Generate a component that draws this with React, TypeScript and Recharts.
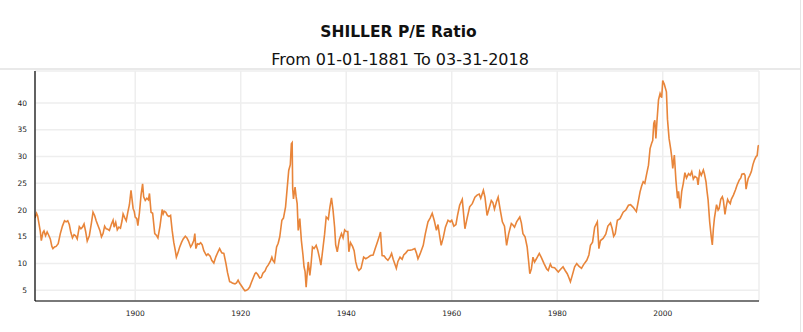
import { LineChart, Line, XAxis, YAxis, CartesianGrid } from "recharts";

// Shiller P/E, [decimal year, ratio]
const PE_1881_1920: [number, number][] = [
  [1881.0, 18.5], [1881.3, 19.4], [1881.5, 18.9], [1881.8, 17.2], [1882.0, 16.0], [1882.2, 14.3],
  [1882.5, 15.8], [1882.7, 16.1], [1883.0, 15.2], [1883.3, 15.9], [1883.6, 15.3], [1883.9, 14.6],
  [1884.2, 13.2], [1884.4, 12.8], [1884.7, 13.1], [1885.0, 13.2], [1885.4, 13.7], [1885.8, 15.6],
  [1886.2, 17.0], [1886.6, 18.0], [1886.9, 17.8], [1887.2, 18.0], [1887.5, 17.3], [1887.8, 15.8],
  [1888.1, 14.8], [1888.4, 15.4], [1888.7, 15.2], [1889.0, 14.6], [1889.4, 16.9], [1889.7, 16.5],
  [1890.0, 16.8], [1890.3, 17.4], [1890.6, 16.0], [1890.9, 14.2], [1891.3, 15.2], [1891.7, 17.6],
  [1892.0, 19.6], [1892.3, 19.0], [1892.6, 18.0], [1892.9, 17.2], [1893.3, 16.2], [1893.6, 15.0],
  [1893.9, 15.6], [1894.2, 17.0], [1894.5, 16.5], [1894.8, 16.4], [1895.1, 16.2], [1895.5, 17.4],
  [1895.8, 18.1], [1896.0, 16.8], [1896.3, 17.7], [1896.6, 16.3], [1896.9, 16.8], [1897.2, 16.6],
  [1897.5, 18.0], [1897.7, 19.3], [1898.0, 18.6], [1898.3, 18.0], [1898.6, 19.6], [1898.9, 21.0],
  [1899.2, 23.7], [1899.4, 22.0], [1899.6, 20.3], [1899.8, 19.8], [1900.0, 18.7], [1900.3, 18.4],
  [1900.5, 17.1], [1900.8, 19.5], [1901.1, 22.8], [1901.4, 24.9], [1901.6, 22.5], [1901.9, 21.8],
  [1902.2, 22.2], [1902.5, 21.9], [1902.7, 23.1], [1903.0, 19.6], [1903.3, 19.4], [1903.7, 15.6],
  [1904.0, 15.3], [1904.3, 14.8], [1904.7, 17.0], [1905.1, 20.1], [1905.3, 19.3], [1905.5, 19.8],
  [1905.8, 19.6], [1906.1, 19.0], [1906.4, 18.8], [1906.7, 19.0], [1907.0, 16.2], [1907.3, 14.0],
  [1907.6, 12.4], [1907.8, 11.2], [1908.1, 12.0], [1908.4, 13.0], [1908.8, 14.0], [1909.1, 14.6],
  [1909.5, 15.1], [1909.8, 14.8], [1910.1, 14.2], [1910.5, 13.1], [1910.8, 13.6], [1911.1, 14.3],
  [1911.3, 15.6], [1911.5, 12.8], [1911.8, 13.7], [1912.1, 13.6], [1912.4, 13.9], [1912.7, 13.5],
  [1913.0, 12.4], [1913.5, 11.5], [1913.8, 11.8], [1914.2, 11.4], [1914.5, 10.6], [1914.9, 10.1],
  [1915.3, 11.3], [1915.7, 12.2], [1916.0, 12.8], [1916.4, 12.0], [1916.8, 11.9], [1917.2, 10.0],
  [1917.5, 8.3], [1917.9, 6.6], [1918.2, 6.5], [1918.5, 6.3], [1918.9, 6.2], [1919.2, 6.4],
  [1919.5, 6.9], [1919.8, 6.3],
];

const PE_1920_1960: [number, number][] = [
  [1920.1, 5.9], [1920.5, 5.3], [1920.8, 4.9], [1921.1, 5.0], [1921.4, 5.2], [1921.7, 5.6],
  [1922.0, 6.4], [1922.4, 7.4], [1922.7, 8.1], [1922.9, 8.3], [1923.2, 8.0], [1923.6, 7.3],
  [1923.9, 7.4], [1924.2, 8.2], [1924.6, 8.6], [1924.9, 9.3], [1925.2, 9.7], [1925.6, 10.4],
  [1925.9, 11.2], [1926.1, 10.6], [1926.4, 10.2], [1926.8, 13.1], [1927.1, 13.8], [1927.4, 15.0],
  [1927.8, 18.1], [1928.1, 18.5], [1928.5, 20.6], [1928.8, 24.0], [1929.1, 27.4], [1929.4, 28.5],
  [1929.6, 32.4], [1929.75, 32.6], [1929.85, 24.0], [1930.0, 22.1], [1930.3, 24.3], [1930.5, 22.5],
  [1930.7, 21.2], [1930.9, 16.2], [1931.2, 18.4], [1931.5, 14.3], [1931.8, 11.6], [1932.0, 9.4],
  [1932.2, 8.5], [1932.4, 5.6], [1932.6, 8.2], [1932.8, 10.3], [1933.1, 7.8], [1933.3, 9.5],
  [1933.6, 13.1], [1933.9, 12.8], [1934.3, 13.4], [1934.6, 12.5], [1934.9, 11.2], [1935.2, 9.7],
  [1935.6, 13.0], [1935.9, 15.5], [1936.2, 18.7], [1936.6, 18.3], [1936.9, 20.5], [1937.2, 22.3],
  [1937.5, 20.0], [1937.8, 16.8], [1938.0, 13.5], [1938.3, 12.2], [1938.7, 14.5], [1939.1, 15.6],
  [1939.4, 14.8], [1939.7, 16.3], [1940.0, 16.0], [1940.3, 16.0], [1940.5, 12.2], [1940.8, 13.9],
  [1941.2, 13.2], [1941.5, 12.4], [1941.8, 10.3], [1942.1, 9.2], [1942.4, 8.7], [1942.8, 9.1],
  [1943.3, 11.2], [1943.7, 10.9], [1944.2, 11.2], [1944.6, 11.5], [1945.1, 11.6], [1945.5, 12.8],
  [1945.9, 14.0], [1946.3, 15.2], [1946.5, 15.9], [1946.8, 11.5], [1947.2, 11.4], [1947.5, 11.0],
  [1947.9, 10.6], [1948.3, 11.2], [1948.6, 11.9], [1948.9, 10.8], [1949.3, 9.7], [1949.5, 9.1],
  [1949.8, 10.4], [1950.2, 11.2], [1950.6, 10.8], [1950.9, 11.6], [1951.3, 12.0], [1951.7, 12.5],
  [1952.1, 12.5], [1952.5, 12.6], [1953.0, 12.8], [1953.3, 12.0], [1953.6, 10.9], [1954.0, 11.8],
  [1954.6, 13.4], [1955.0, 15.6], [1955.5, 17.8], [1955.9, 18.5], [1956.3, 19.4], [1956.7, 18.0],
  [1957.1, 16.2], [1957.4, 17.3], [1957.7, 15.2], [1958.0, 13.4], [1958.4, 14.9], [1958.8, 16.8],
  [1959.3, 18.1], [1959.7, 17.8],
];

const PE_1960_2018: [number, number][] = [
  [1960.0, 18.1], [1960.4, 17.0], [1960.8, 17.3], [1961.1, 19.0], [1961.5, 20.9], [1962.0, 22.0],
  [1962.2, 19.8], [1962.5, 16.5], [1962.9, 18.4], [1963.4, 20.6], [1963.9, 21.2], [1964.4, 22.4],
  [1964.8, 22.8], [1965.2, 23.0], [1965.5, 22.2], [1966.0, 23.7], [1966.3, 22.4], [1966.7, 19.0],
  [1967.0, 20.0], [1967.5, 21.8], [1967.8, 21.4], [1968.1, 20.2], [1968.5, 21.6], [1968.8, 22.4],
  [1969.2, 20.0], [1969.6, 17.8], [1970.0, 17.0], [1970.4, 13.4], [1970.8, 15.6], [1971.3, 17.5],
  [1971.6, 17.2], [1971.9, 16.8], [1972.3, 17.8], [1972.9, 18.7], [1973.2, 17.6], [1973.5, 15.6],
  [1973.9, 15.0], [1974.3, 13.1], [1974.6, 10.2], [1974.8, 8.1], [1975.1, 9.0], [1975.4, 11.2],
  [1975.7, 10.3], [1976.0, 10.8], [1976.6, 11.9], [1977.0, 11.1], [1977.5, 10.0], [1978.0, 9.0],
  [1978.3, 8.7], [1978.7, 9.9], [1979.0, 9.3], [1979.5, 9.2], [1980.2, 8.4], [1980.6, 8.9],
  [1981.1, 9.4], [1981.5, 8.7], [1981.9, 8.1], [1982.2, 7.4], [1982.5, 6.6], [1982.8, 7.6],
  [1983.3, 9.4], [1983.7, 10.0], [1984.1, 9.5], [1984.6, 9.1], [1985.0, 9.8], [1985.6, 10.6],
  [1986.0, 11.6], [1986.3, 13.4], [1986.7, 14.0], [1987.1, 16.8], [1987.6, 17.8], [1987.9, 12.8],
  [1988.2, 14.3], [1988.7, 14.7], [1989.2, 15.5], [1989.6, 17.0], [1990.1, 17.6], [1990.4, 16.6],
  [1990.7, 15.1], [1991.0, 15.6], [1991.4, 18.1], [1991.9, 18.4], [1992.5, 19.6], [1993.0, 20.0],
  [1993.5, 20.9], [1993.9, 21.0], [1994.4, 20.5], [1995.0, 19.7], [1995.4, 21.8], [1995.7, 23.4],
  [1996.0, 24.5], [1996.3, 25.3], [1996.6, 25.0], [1996.9, 26.5], [1997.3, 28.4], [1997.6, 31.5],
  [1997.9, 32.5], [1998.1, 33.0], [1998.3, 36.2], [1998.5, 36.8], [1998.7, 33.4], [1998.9, 36.5],
  [1999.2, 40.6], [1999.5, 41.8], [1999.8, 41.0], [2000.0, 44.2], [2000.3, 43.5], [2000.7, 42.1],
  [2000.9, 37.0], [2001.2, 33.4], [2001.5, 31.5], [2001.7, 30.0], [2001.9, 27.8], [2002.2, 30.3],
  [2002.5, 25.6], [2002.8, 22.2], [2003.0, 23.5], [2003.3, 20.3], [2003.6, 23.5], [2003.9, 25.0],
  [2004.2, 27.0], [2004.5, 26.0], [2004.9, 26.8], [2005.2, 26.5], [2005.5, 27.2], [2005.8, 25.8],
  [2006.1, 26.3], [2006.5, 26.0], [2006.7, 24.7], [2007.0, 27.2], [2007.3, 26.5], [2007.7, 27.5],
  [2007.9, 26.8], [2008.2, 25.3], [2008.4, 23.5], [2008.6, 21.9], [2008.9, 17.8], [2009.2, 15.0],
  [2009.4, 13.5], [2009.6, 16.5], [2009.8, 18.5], [2010.2, 21.0], [2010.5, 20.0], [2010.7, 20.3],
  [2011.0, 22.0], [2011.3, 22.5], [2011.5, 21.8], [2011.8, 19.2], [2012.0, 20.5], [2012.3, 22.0],
  [2012.5, 21.6], [2012.8, 21.2], [2013.0, 22.0], [2013.4, 22.8], [2013.8, 23.8], [2014.1, 24.7],
  [2014.5, 25.6], [2014.8, 26.0], [2015.0, 26.7], [2015.4, 26.8], [2015.6, 26.5], [2015.8, 23.9],
  [2016.0, 25.0], [2016.2, 25.9], [2016.5, 26.5], [2016.8, 27.2], [2017.1, 28.5], [2017.4, 29.4],
  [2017.7, 30.0], [2017.9, 30.2], [2018.1, 32.0], [2018.25, 32.1],
];

const Y_TICKS = [5, 10, 15, 20, 25, 30, 35, 40];
const X_TICKS = [1900, 1920, 1940, 1960, 1980, 2000];

const data = [...PE_1881_1920, ...PE_1920_1960, ...PE_1960_2018].map(([year, pe]) => ({ year, pe }));

const FONT = "'DejaVu Sans', Verdana, sans-serif";
const tickStyle = { fontSize: 7.5, fill: "#222", fontFamily: FONT };

export default function App() {
  return (
    <div style={{ position: "absolute", left: 0, top: 0, width: 803, height: 332, background: "#fff", overflow: "hidden" }}>
      <div style={{ position: "absolute", top: 22, left: 0, width: 797, textAlign: "center",
        fontFamily: FONT, fontWeight: "bold", fontSize: 15.5, color: "#111", lineHeight: "20px" }}>
        SHILLER P/E Ratio
      </div>
      <div style={{ position: "absolute", top: 50, left: 0, width: 800, textAlign: "center",
        fontFamily: FONT, fontSize: 16, color: "#111", lineHeight: "20px" }}>
        From 01-01-1881 To 03-31-2018
      </div>
      {/* separator band and right edge */}
      <div style={{ position: "absolute", top: 68, left: 0, width: 800, height: 2, background: "#e9e9e9" }} />
      <div style={{ position: "absolute", top: 0, left: 800, width: 1, height: 332, background: "#e6e6e6" }} />

      <div style={{ position: "absolute", top: 0, left: 0 }}>
        <LineChart width={803} height={332} data={data}
          margin={{ top: 71, right: 44, bottom: 11, left: 5 }}>
          <CartesianGrid stroke="#eeeeee" strokeWidth={1.5} />
          <XAxis dataKey="year" type="number" domain={[1881, 2018.25]} ticks={X_TICKS}
            allowDataOverflow height={20} tickLine={false} tickMargin={4}
            axisLine={{ stroke: "#000", strokeWidth: 1.2 }} tick={tickStyle} />
          <YAxis type="number" domain={[3, 46]} ticks={Y_TICKS} allowDataOverflow width={30}
            tickLine={false} axisLine={{ stroke: "#000", strokeWidth: 1.2 }} tick={tickStyle} />
          <Line type="linear" dataKey="pe" stroke="#e8853a" strokeWidth={1.6} dot={false}
            isAnimationActive={false} />
        </LineChart>
      </div>
    </div>
  );
}
